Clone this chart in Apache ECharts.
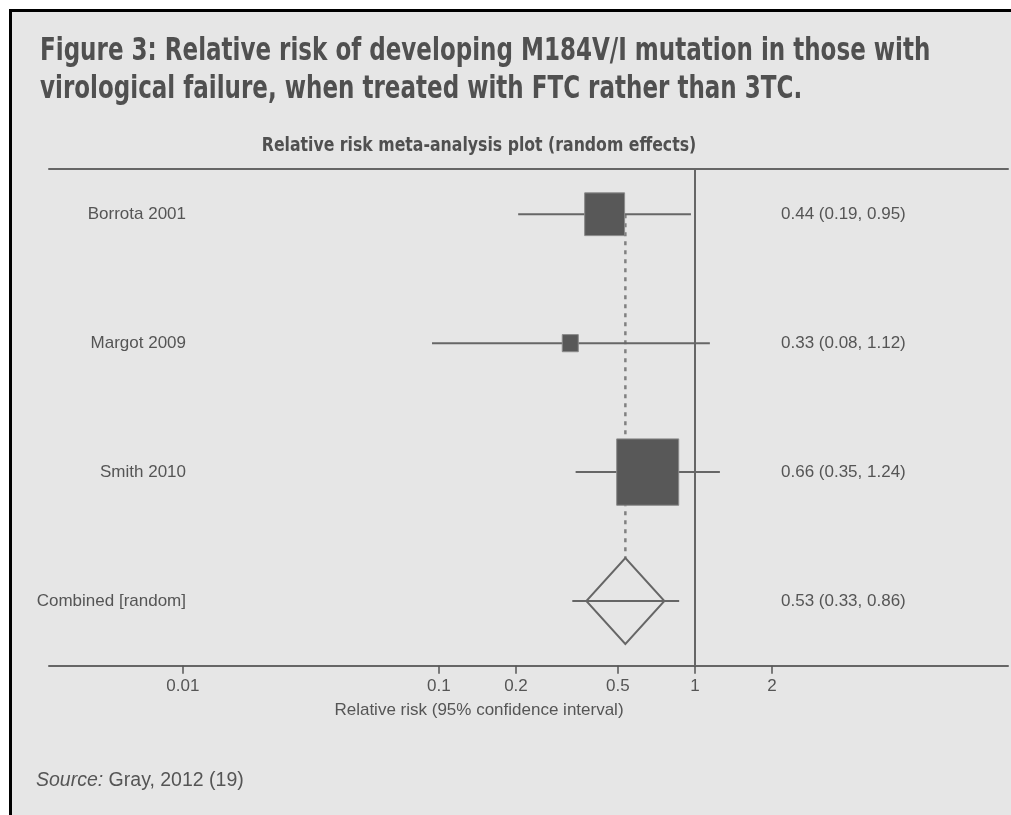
<!DOCTYPE html>
<html>
<head>
<meta charset="utf-8">
<script src="https://cdn.jsdelivr.net/npm/echarts@6/dist/echarts.min.js"></script>
<style>
  html, body { margin: 0; padding: 0; background: #fff; }
  #main { width: 1011px; height: 815px; }
</style>
</head>
<body>
<div id="main"></div>
<script>
// study rows, top to bottom
var studies = ['Borrota 2001', 'Margot 2009', 'Smith 2010', 'Combined [random]'];
// relative risk as drawn in the plot
var estimates = [0.444, 0.326, 0.654, 0.535];
var lowerCI = [0.204, 0.094, 0.342, 0.332];
var upperCI = [0.965, 1.144, 1.252, 0.868];
// study weights (%), combined row has no box
var weights = [28, 4.5, 67.5, 0];
// printed text on the right
var ciLabels = ['0.44 (0.19, 0.95)', '0.33 (0.08, 1.12)', '0.66 (0.35, 1.24)', '0.53 (0.33, 0.86)'];
// x axis ticks
var tickValues = [0.01, 0.1, 0.2, 0.5, 1, 2];

var textColor = '#555';
var lineColor = '#666';
var font = '"Liberation Sans", Arial, sans-serif';
var condensed = '"DejaVu Sans Condensed", "DejaVu Sans", sans-serif';

function lg(v) { return Math.log(v) / Math.LN10; }

var xMin = -2.523, xMax = 1.223; // log10 extent of the axis
var yMin = 0.649, yMax = 4.502;
var rows = [1, 2, 3, 4];

var forestData = [];
for (var i = 0; i < studies.length; i++) {
  forestData.push([lg(lowerCI[i]), lg(upperCI[i]), lg(estimates[i]), i + 1, weights[i]]);
}
var last = studies.length - 1;

function renderRow(params, api) {
  var y = api.value(3);
  var a = api.coord([api.value(0), y]);
  var b = api.coord([api.value(1), y]);
  var c = api.coord([api.value(2), y]);
  var children = [{
    type: 'line',
    shape: { x1: a[0], y1: a[1], x2: b[0], y2: b[1] },
    style: { stroke: lineColor, lineWidth: 2 }
  }];
  var w = api.value(4);
  if (w > 0) {
    var side = 7.55 * Math.sqrt(w);
    var h = side * 1.07;
    children.push({
      type: 'rect',
      shape: { x: c[0] - side / 2, y: c[1] - h / 2, width: side, height: h },
      style: { fill: '#585858', stroke: '#8a8a8a', lineWidth: 1 }
    });
  }
  return { type: 'group', children: children };
}

var myChart = echarts.init(document.getElementById('main'));
var option = {
  animation: false,
  backgroundColor: '#fff',
  graphic: [{
    type: 'rect',
    z: -10,
    shape: { x: 10.5, y: 10.5, width: 1100, height: 900 },
    style: { fill: '#e6e6e6', stroke: '#000', lineWidth: 3 }
  }, {
    // main heading, squeezed to look like a condensed face
    type: 'text',
    x: 40,
    y: 33,
    scaleX: 0.8,
    style: {
      text: 'Figure 3: Relative risk of developing M184V/I mutation in those with\nvirological failure, when treated with FTC rather than 3TC.',
      fontFamily: condensed,
      fontWeight: 'bold',
      fontSize: 32,
      lineHeight: 38,
      fill: '#505050',
      verticalAlign: 'top'
    }
  }, {
    type: 'text',
    x: 479,
    y: 137,
    scaleX: 0.92,
    style: {
      text: 'Relative risk meta-analysis plot (random effects)',
      fontFamily: condensed,
      fontWeight: 'bold',
      fontSize: 19,
      fill: '#505050',
      align: 'center',
      verticalAlign: 'top'
    }
  }],
  title: [{
    text: '{i|Source:} Gray, 2012 (19)',
    left: 36,
    top: 771,
    padding: 0,
    textStyle: {
      fontFamily: font,
      fontWeight: 'normal',
      fontSize: 19.5,
      color: textColor,
      rich: {
        i: { fontFamily: font, fontWeight: 'normal', fontSize: 19.5, fontStyle: 'italic', color: textColor }
      }
    }
  }],
  grid: { left: 49, right: 3, top: 169, bottom: 149.3 },
  xAxis: [{
    type: 'value',
    min: xMin,
    max: xMax,
    splitLine: { show: false },
    axisLine: { lineStyle: { color: lineColor, width: 2 } },
    axisTick: {
      customValues: tickValues.map(lg),
      length: 8,
      lineStyle: { color: textColor, width: 1.5 }
    },
    axisLabel: {
      customValues: tickValues.map(lg),
      margin: 12,
      color: textColor,
      fontFamily: font,
      fontSize: 17,
      formatter: function(v) { return String(parseFloat(Math.pow(10, v).toPrecision(2))); }
    },
    name: 'Relative risk (95% confidence interval)',
    nameLocation: 'middle',
    nameGap: 36,
    nameTextStyle: { color: textColor, fontFamily: font, fontSize: 17, padding: [0, 99, 0, 0] }
  }, {
    type: 'value',
    position: 'top',
    min: xMin,
    max: xMax,
    splitLine: { show: false },
    axisLine: { onZero: false, lineStyle: { color: lineColor, width: 2 } },
    axisTick: { show: false },
    axisLabel: { show: false }
  }],
  yAxis: [{
    type: 'value',
    inverse: true,
    min: yMin,
    max: yMax,
    offset: -137,
    splitLine: { show: false },
    axisLine: { show: false },
    axisTick: { show: false },
    axisLabel: {
      customValues: rows,
      margin: 0,
      color: textColor,
      fontFamily: font,
      fontSize: 17,
      formatter: function(v) { return studies[Math.round(v) - 1]; }
    }
  }, {
    type: 'value',
    position: 'right',
    inverse: true,
    min: yMin,
    max: yMax,
    offset: -227,
    splitLine: { show: false },
    axisLine: { show: false },
    axisTick: { show: false },
    axisLabel: {
      customValues: rows,
      margin: 0,
      align: 'left',
      color: textColor,
      fontFamily: font,
      fontSize: 17,
      formatter: function(v) { return ciLabels[Math.round(v) - 1]; }
    }
  }],
  series: [{
    // pooled estimate, dashed, with the line of no effect as markLine
    type: 'line',
    z: 1,
    symbol: 'none',
    data: [[lg(estimates[last]), 1], [lg(estimates[last]), 4]],
    lineStyle: { color: '#808080', width: 2.5, type: [4, 5] },
    markLine: {
      silent: true,
      symbol: 'none',
      label: { show: false },
      lineStyle: { color: lineColor, width: 2, type: 'solid' },
      data: [{ xAxis: 0 }]
    }
  }, {
    type: 'scatter',
    z: 2,
    symbol: 'diamond',
    symbolSize: [78, 86],
    data: [[lg(estimates[last]), last + 1]],
    itemStyle: { color: '#e6e6e6', borderColor: lineColor, borderWidth: 2, opacity: 1 }
  }, {
    type: 'custom',
    z: 3,
    renderItem: renderRow,
    encode: { x: [0, 1, 2], y: 3 },
    data: forestData
  }]
};
myChart.setOption(option);
</script>
</body>
</html>
